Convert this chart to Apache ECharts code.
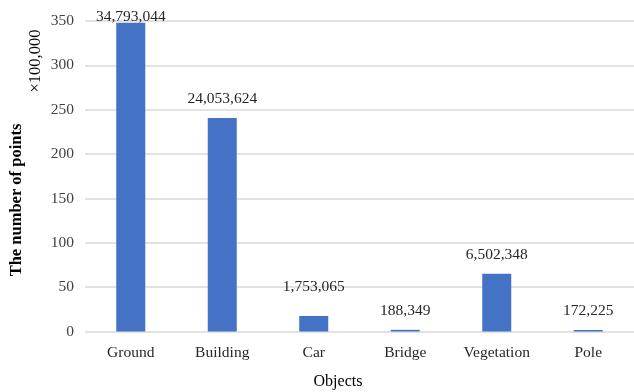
<!DOCTYPE html>
<html>
<head>
<meta charset="utf-8">
<script src="https://cdn.jsdelivr.net/npm/echarts@6/dist/echarts.min.js"></script>
<style>
  html, body { margin: 0; padding: 0; background: #fff; }
  #main { width: 634px; height: 392px; }
</style>
</head>
<body>
<div id="main"></div>
<script>
// data
const categories = ["Ground", "Building", "Car", "Bridge", "Vegetation", "Pole"];
const pointCounts = [34793044, 24053624, 1753065, 188349, 6502348, 172225];
const yTicks = [0, 50, 100, 150, 200, 250, 300, 350];

const font = "Liberation Serif";
let dom = document.getElementById("main");
let myChart = echarts.init(dom, null, { renderer: "canvas" });

// a couple of labels sit at a different height in the original
const labelOffsets = { Ground: [0, 13], Car: [0, -10] };

let seriesData = categories.map((c, i) => ({
    value: pointCounts[i] / 100000,
    label: { offset: labelOffsets[c] || [0, 0] },
}));

let option = {
    animation: false,
    textStyle: { fontFamily: font },
    grid: { left: 85, top: 21, width: 555, height: 310.5 },
    xAxis: {
        type: "category",
        data: categories,
        axisLine: { show: false },
        axisTick: { show: false },
        axisLabel: { color: "#262626", fontSize: 15.5, fontFamily: font, margin: 13 },
    },
    yAxis: {
        type: "value",
        min: yTicks[0],
        max: yTicks[yTicks.length - 1],
        interval: 50,
        axisLine: { show: false },
        axisTick: { show: false },
        axisLabel: { color: "#404040", fontSize: 15.5, fontFamily: font, margin: 11 },
        splitLine: { lineStyle: { color: "#d9d9d9", width: 1.5 } },
    },
    series: [{
        type: "bar",
        data: seriesData,
        barWidth: 29,
        itemStyle: { color: "#4472C4" },
        label: {
            show: true,
            position: "top",
            distance: 11,
            color: "#262626",
            fontSize: 15.5,
            fontFamily: font,
            formatter: (p) => pointCounts[p.dataIndex].toLocaleString("en-US"),
        },
    }],
    graphic: [
        {
            type: "text",
            x: 17, y: 200, rotation: Math.PI / 2,
            style: {
                text: "The number of points",
                font: "bold 16.5px " + font,
                fill: "#000",
                align: "center", verticalAlign: "middle",
            },
        },
        {
            type: "text",
            x: 36, y: 61, rotation: Math.PI / 2,
            style: {
                text: "×100,000",
                font: "16.5px " + font,
                fill: "#000",
                align: "center", verticalAlign: "middle",
            },
        },
        {
            type: "text",
            x: 338, y: 382,
            style: {
                text: "Objects",
                font: "16px " + font,
                fill: "#000",
                align: "center", verticalAlign: "middle",
            },
        },
    ],
};

myChart.setOption(option);
window.addEventListener("resize", myChart.resize);
</script>
</body>
</html>
